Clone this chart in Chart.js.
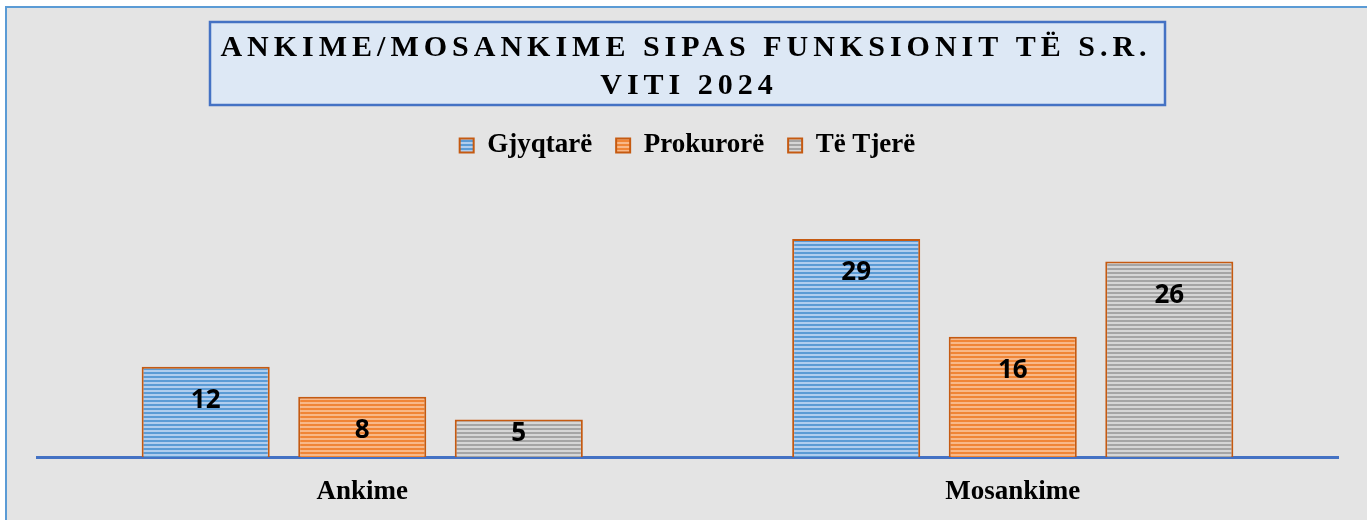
<!DOCTYPE html>
<html>
<head>
<meta charset="utf-8">
<script src="https://cdn.jsdelivr.net/npm/chart.js@4"></script>
<style>
  html, body { margin: 0; padding: 0; background: #ffffff; }
  body { width: 1367px; height: 520px; position: relative; overflow: hidden; }
  #marco {
    position: absolute; left: 5px; top: 6px; right: 0; bottom: 0;
    background: #e4e4e4;
    border-left: 2px solid #5b9bd5;
    border-top: 2px solid #5b9bd5;
  }
  #grafico { position: absolute; left: 0; top: 0; }
</style>
</head>
<body>
<div id="marco"></div>
<canvas id="grafico" width="1367" height="520"></canvas>
<script>
// Datos del gráfico
const categorias = ['Ankime', 'Mosankime'];
const gjyqtare = [12, 29];
const prokurore = [8, 16];
const teTjere = [5, 26];
const titulo = ['ANKIME/MOSANKIME SIPAS FUNKSIONIT TË S.R.', 'VITI 2024'];

// Patrón de rayas horizontales
function rayas(oscuro, claro) {
    const c = document.createElement('canvas');
    c.width = 4;
    c.height = 4;
    const g = c.getContext('2d');
    g.fillStyle = claro;
    g.fillRect(0, 0, 4, 4);
    g.fillStyle = oscuro;
    g.fillRect(0, 0, 4, 2);
    return g.createPattern(c, 'repeat');
}

// Caja del título con espaciado de letras
const cajaTitulo = {
    id: 'cajaTitulo',
    beforeDraw(chart) {
        const ctx = chart.ctx;
        ctx.save();
        ctx.fillStyle = '#dde8f5';
        ctx.fillRect(210, 22, 955, 83);
        ctx.strokeStyle = '#4472c4';
        ctx.lineWidth = 2.5;
        ctx.strokeRect(210, 22, 955, 83);
        ctx.fillStyle = '#000000';
        ctx.font = 'bold 30px "Liberation Serif", "Times New Roman", serif';
        ctx.letterSpacing = '5px';
        ctx.textAlign = 'center';
        ctx.textBaseline = 'alphabetic';
        ctx.fillText(titulo[0], 686, 56);
        ctx.fillText(titulo[1], 689, 94);
        ctx.restore();
    }
};

// Etiquetas de valores dentro de las barras
const etiquetas = {
    id: 'etiquetas',
    afterDatasetsDraw(chart) {
        const ctx = chart.ctx;
        ctx.save();
        ctx.font = 'bold 26px "Open Sans", "Liberation Sans", sans-serif';
        ctx.fillStyle = '#000000';
        ctx.textAlign = 'center';
        ctx.textBaseline = 'middle';
        chart.data.datasets.forEach((ds, i) => {
            chart.getDatasetMeta(i).data.forEach((bar, j) => {
                const alto = bar.base - bar.y;
                const desp = alto > 50 ? 34 : 14;
                ctx.fillText(String(ds.data[j]), bar.x, bar.y + desp);
            });
        });
        ctx.restore();
    }
};

const fuenteSerif = { family: '"Liberation Serif", "Times New Roman", serif', size: 27, weight: 'bold' };

new Chart(document.getElementById('grafico'), {
    type: 'bar',
    data: {
        labels: categorias,
        datasets: [
            { label: 'Gjyqtarë', data: gjyqtare, backgroundColor: rayas('#5b9bd5', '#b0cdee') },
            { label: 'Prokurorë', data: prokurore, backgroundColor: rayas('#f08536', '#f8b888') },
            { label: 'Të Tjerë', data: teTjere, backgroundColor: rayas('#a5a5a5', '#d6d6d6') }
        ]
    },
    options: {
        responsive: false,
        animation: false,
        layout: { padding: { top: 108, left: 37, right: 29, bottom: 0 } },
        datasets: {
            bar: {
                borderColor: '#c55a11',
                borderWidth: 2,
                categoryPercentage: 0.722,
                barPercentage: 0.818
            }
        },
        plugins: {
            title: { display: false },
            tooltip: { enabled: false },
            legend: {
                display: true,
                position: 'top',
                labels: {
                    font: fuenteSerif,
                    color: '#000000',
                    boxWidth: 14,
                    boxHeight: 14,
                    padding: 24
                }
            }
        },
        scales: {
            x: {
                z: 1,
                grid: { display: false, drawTicks: false },
                border: { display: true, color: '#4472c4', width: 3 },
                ticks: { font: fuenteSerif, color: '#000000', padding: 19 },
                afterFit(scale) { scale.height = 63; }
            },
            y: {
                display: false,
                min: 0,
                max: 38.3
            }
        }
    },
    plugins: [cajaTitulo, etiquetas]
});
</script>
</body>
</html>
